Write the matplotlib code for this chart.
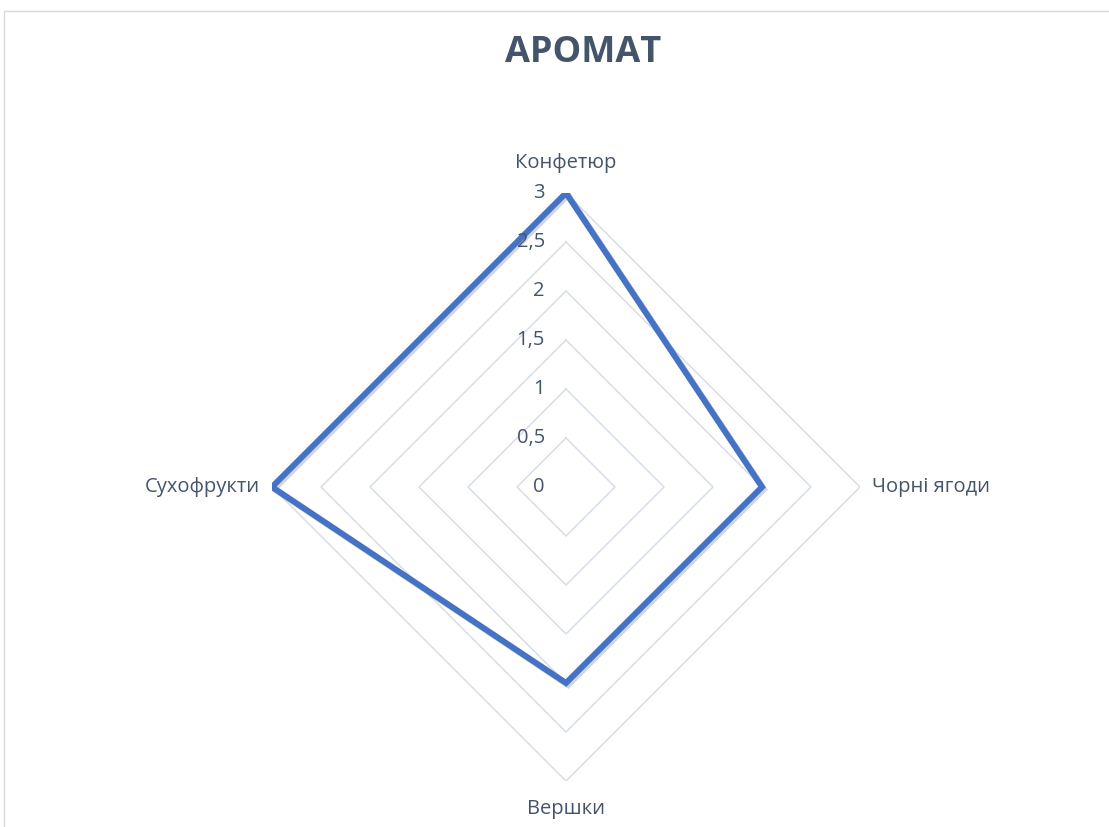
import numpy as np
import matplotlib
matplotlib.use("Agg")
import matplotlib.pyplot as plt
import matplotlib.patheffects as pe
from matplotlib.patches import Rectangle

title = "АРОМАТ"
categories = ["Конфетюр", "Чорні ягоди", "Вершки", "Сухофрукти"]
values = [3, 2, 2, 3]
rticks = [0, 0.5, 1, 1.5, 2, 2.5, 3]
rtick_labels = ["0", "0,5", "1", "1,5", "2", "2,5", "3"]

plt.rcParams['font.family'] = ['Open Sans', 'DejaVu Sans']
text_color = '#44546A'
grid_color = '#D9DEE6'
line_color = '#4472C4'

fig = plt.figure(figsize=(11.09, 8.27), dpi=100)
fig.patch.set_facecolor('white')

# chart border
fig.add_artist(Rectangle((4/1109, -0.01), 1.02, (827-11)/827 + 0.01,
                         transform=fig.transFigure, fill=False,
                         edgecolor='#D9D9D9', linewidth=1.0))

ax = fig.add_axes([272/1109, 46/827, 588/1109, 588/827], projection='polar')
ax.set_theta_zero_location('N')
ax.set_theta_direction(-1)
ax.set_ylim(0, 3)
ax.grid(False)
ax.spines['polar'].set_visible(False)
ax.set_xticks([])
ax.set_yticks([])
ax.set_facecolor('none')

n = len(categories)
angles = np.linspace(0, 2*np.pi, n, endpoint=False)
closed = np.concatenate([angles, angles[:1]])

# polygon gridlines
for r in rticks[1:]:
    ax.plot(closed, [r]*(n+1), color=grid_color, lw=1.1, zorder=1)

# data polygon
vals = list(values) + [values[0]]
ax.plot(closed, vals, color=line_color, lw=4.3, zorder=3,
        solid_joinstyle='miter',
        path_effects=[pe.SimpleLineShadow(offset=(1.5, -1.5), shadow_color='#888888', alpha=0.35),
                      pe.Normal()])

# radial tick labels
for r, lab in zip(rticks, rtick_labels):
    ax.annotate(lab, xy=(0, r), xytext=(-21, 0), textcoords='offset pixels',
                ha='right', va='center', fontsize=14.5, color=text_color, zorder=4)

# category labels
offsets = [(0, 30, 'center', 'center'), (12, 0, 'left', 'center'),
           (0, -28, 'center', 'center'), (-12, 0, 'right', 'center')]
for a, cat, (dx, dy, ha, va) in zip(angles, categories, offsets):
    ax.annotate(cat, xy=(a, 3), xytext=(dx, dy), textcoords='offset pixels',
                ha=ha, va=va, fontsize=14.5, color=text_color,
                annotation_clip=False)

fig.text(583/1109, 1 - 53/827, title, ha='center', va='center',
         fontsize=26, fontweight='bold', color=text_color,
         family=['Open Sans', 'DejaVu Sans'])

fig.savefig('out.png', dpi=100, facecolor='white')
